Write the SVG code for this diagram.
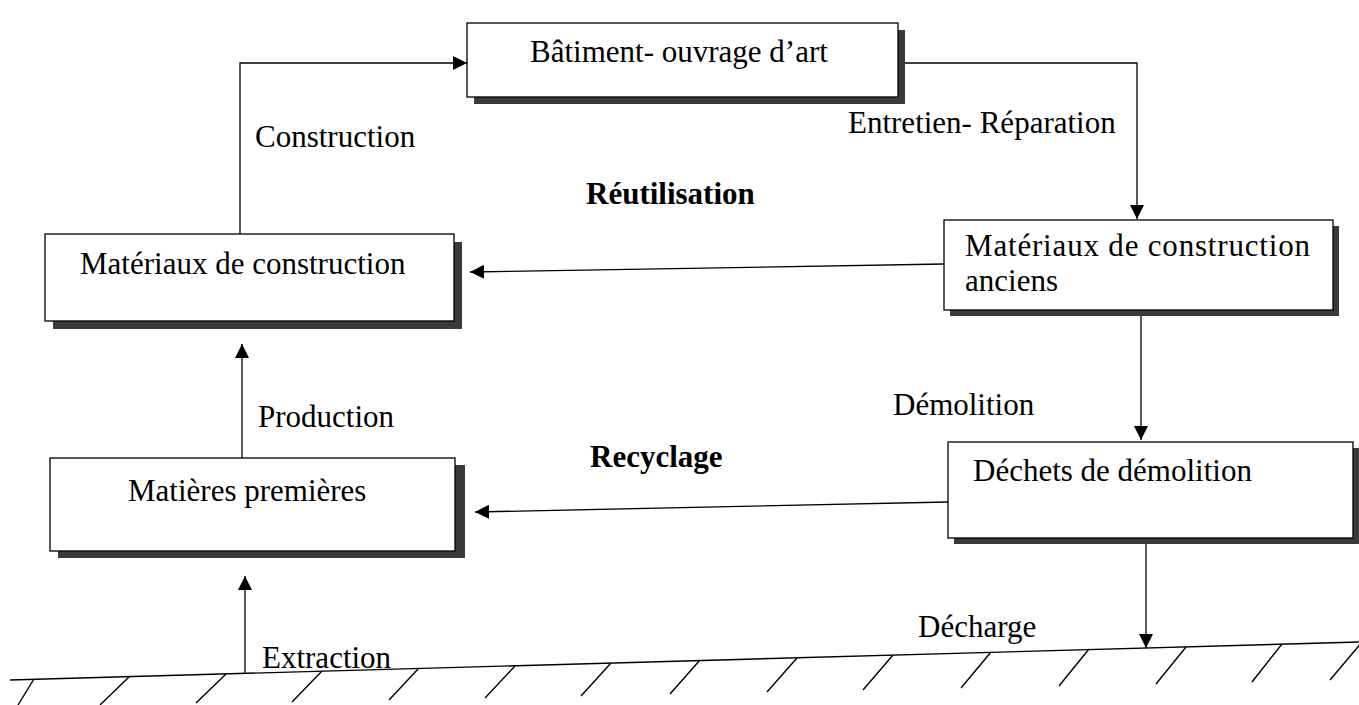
<svg xmlns="http://www.w3.org/2000/svg" width="1359" height="705" viewBox="0 0 1359 705">
<style>
.box{fill:#fff;stroke:#000;stroke-width:1.3}
.sh{fill:#3a3a3a}
.t{font-family:"Liberation Serif","Times New Roman",serif;font-size:31px;fill:#000}
.b{font-weight:bold}
.c{fill:none;stroke:#000;stroke-width:1.3}
.g{fill:none;stroke:#000;stroke-width:1.4}
</style>
<defs>
<marker id="ah" viewBox="0 0 10 10" refX="10" refY="5" markerWidth="14" markerHeight="14" markerUnits="userSpaceOnUse" orient="auto">
<path d="M0,0 L10,5 L0,10 z" fill="#000"/>
</marker>
</defs>
<rect width="1359" height="705" fill="#fff"/>

<g id="connectors">
<polyline class="c" points="240,234 240,63 467,63" marker-end="url(#ah)"/>
<polyline class="c" points="898,63 1137,63 1137,219" marker-end="url(#ah)"/>
<line class="c" x1="944" y1="264" x2="470" y2="272" marker-end="url(#ah)"/>
<line class="c" x1="1141" y1="310" x2="1141" y2="440" marker-end="url(#ah)"/>
<line class="c" x1="948" y1="502" x2="475" y2="512" marker-end="url(#ah)"/>
<line class="c" x1="242" y1="458" x2="242" y2="344" marker-end="url(#ah)"/>
<line class="c" x1="245" y1="673" x2="245" y2="576" marker-end="url(#ah)"/>
<line class="c" x1="1146" y1="538" x2="1146" y2="648" marker-end="url(#ah)"/>
</g>

<g id="ground">
<line class="g" x1="10" y1="680" x2="1359" y2="642"/>
<path class="g" d="M34,679 L18,705 M130,676 L100,705 M226,674 L196,703 M322,671 L292,702 M419,668 L389,700 M515,666 L485,698 M611,663 L581,696 M700,660 L670,694 M797,658 L767,692 M893,655 L863,690 M991,652 L961,688 M1089,649 L1059,686 M1186,647 L1156,684 M1282,644 L1252,682 M1362,642 L1330,680"/>
</g>

<g id="n-batiment">
<rect class="sh" x="474" y="30" width="431" height="74"/>
<rect class="box" x="467" y="23" width="431" height="74"/>
<text class="t" x="530" y="62">Bâtiment- ouvrage d’art</text>
</g>

<g id="n-materiaux">
<rect class="sh" x="53" y="242" width="409" height="87"/>
<rect class="box" x="45" y="234" width="409" height="87"/>
<text class="t" x="80" y="274">Matériaux de construction</text>
</g>

<g id="n-anciens">
<rect class="sh" x="950" y="226" width="389" height="90"/>
<rect class="box" x="944" y="220" width="389" height="90"/>
<text class="t" x="965" y="256" textLength="345" lengthAdjust="spacing">Matériaux de construction</text>
<text class="t" x="965" y="291">anciens</text>
</g>

<g id="n-matieres">
<rect class="sh" x="58" y="465" width="407" height="93"/>
<rect class="box" x="50" y="458" width="405" height="93"/>
<text class="t" x="128" y="501">Matières premières</text>
</g>

<g id="n-dechets">
<rect class="sh" x="954" y="448" width="405" height="96"/>
<rect class="box" x="948" y="442" width="405" height="96"/>
<text class="t" x="973" y="481">Déchets de démolition</text>
</g>

<g id="labels">
<text class="t" x="255" y="147">Construction</text>
<text class="t" x="848" y="133">Entretien- Réparation</text>
<text class="t b" x="586" y="204">Réutilisation</text>
<text class="t" x="258" y="427">Production</text>
<text class="t" x="893" y="415">Démolition</text>
<text class="t b" x="590" y="467">Recyclage</text>
<text class="t" x="262" y="668">Extraction</text>
<text class="t" x="918" y="637">Décharge</text>
</g>
</svg>
